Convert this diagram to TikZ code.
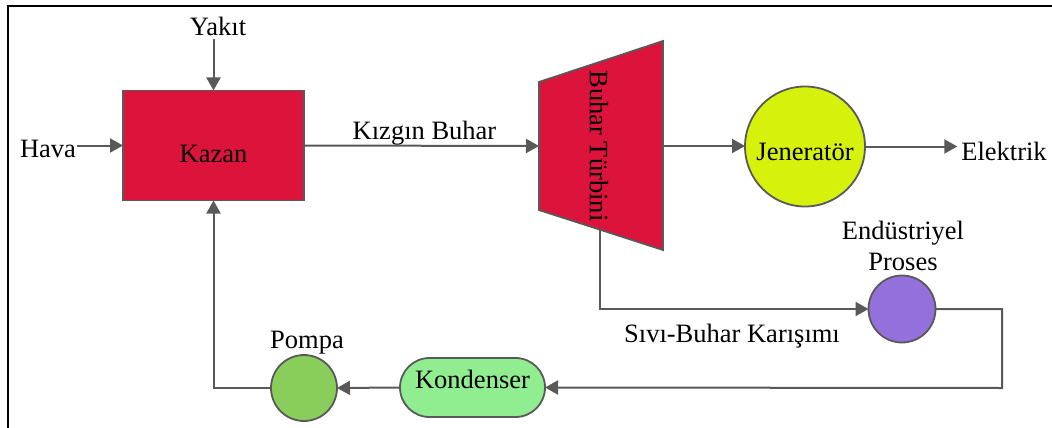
\documentclass[tikz,border=0pt]{standalone}
\usepackage{fontspec}
\setmainfont{Liberation Serif}
\usetikzlibrary{arrows.meta,shapes.misc}

\definecolor{boiler}{RGB}{220,20,60}
\definecolor{gencol}{RGB}{214,242,12}
\definecolor{proccol}{RGB}{147,112,219}
\definecolor{condcol}{RGB}{144,238,144}
\definecolor{pumpcol}{RGB}{137,206,90}
\definecolor{linecol}{RGB}{89,89,89}

\begin{document}
\begin{tikzpicture}[x=1pt,y=-1pt,
  every node/.style={font=\fontsize{26.5}{31}\selectfont, inner sep=0pt, outer sep=0pt},
  txt/.style={anchor=base},
  unit/.style={draw=linecol, line width=1.8pt},
  pipe/.style={draw=linecol, line width=2pt},
  flow/.style={pipe, -{Triangle[length=13pt,width=14pt]}}]

\useasboundingbox (0,0) rectangle (1052,428);

% outer frame (top and left edges)
\draw[line width=2.3pt] (8,428) -- (8,6) -- (1052,6);

% boiler
\node[unit, fill=boiler, minimum width=181pt, minimum height=110pt] (kazan) at (213.5,145.5)
  {\raisebox{-16.5pt}[0pt][0pt]{Kazan}};

% steam turbine
\draw[unit, fill=boiler] (539,82) -- (663,41) -- (663,250) -- (539,210) -- cycle;
\node[rotate=-90] (turb) at (599,146) {Buhar Türbini};
\coordinate (tin) at (539,146);
\coordinate (tout) at (663,146);
\coordinate (tbot) at (600,229.7);

% generator
\node[unit, circle, fill=gencol, minimum size=120pt] (jen) at (805,146.5)
  {\raisebox{-14pt}[0pt][0pt]{Jeneratör}};

% industrial process, condenser, pump
\node[unit, circle, fill=proccol, minimum size=67pt] (proc) at (902,309) {};
\node[unit, rounded rectangle, fill=condcol, minimum width=145pt, minimum height=59pt] (kond) at (472.5,387.5)
  {\raisebox{-1pt}[0pt][0pt]{Kondenser}};
\node[unit, circle, fill=pumpcol, minimum size=66pt] (pompa) at (304,388) {};
\coordinate (rt) at (1002,388);

% labels
\node[txt] (yakit) at (218,36) {Yakıt};
\node[txt] (hava) at (48,157) {Hava};
\node[txt] (kizgin) at (424.5,139) {Kızgın Buhar};
\node[txt] (elek) at (1004,160) {Elektrik};
\node[txt] (endus) at (903,239) {Endüstriyel};
\node[txt] (proses) at (903,270) {Proses};
\node[txt] (sivi) at (732,342) {Sıvı-Buhar Karışımı};
\node[txt] (pomlbl) at (307,348) {Pompa};

% connectors
\draw[flow, shorten <=3pt] (kazan.north |- yakit.south) -- (kazan.north);
\draw[flow, shorten <=1pt] (hava.east |- kazan.west) -- (kazan.west);
\draw[flow] (kazan.east) -- (tin);
\draw[flow] (tout) -- (tout -| jen.west);
\draw[flow, shorten >=4pt] (jen.east) -- (jen.east -| elek.west);
\draw[flow] (tbot) |- (proc.west);
\draw[flow] (proc.east) -| (rt) -- (kond.east);
\draw[flow] (kond.west) -- (pompa.east);
\draw[flow] (pompa.west) -| (kazan.south);
\end{tikzpicture}
\end{document}
